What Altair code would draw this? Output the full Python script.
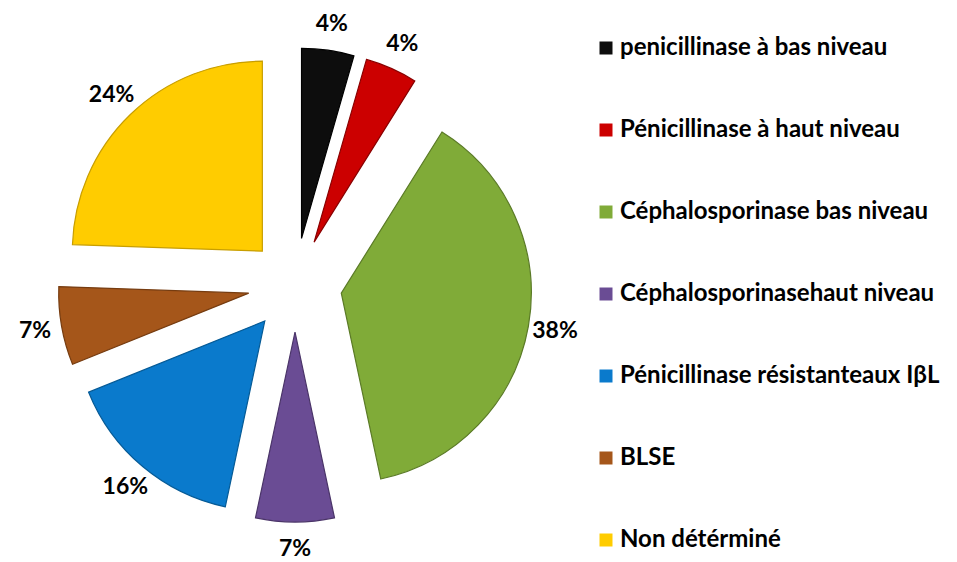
import altair as alt
import numpy as np
import pandas as pd

# ---- data ----
categories = [
    "penicillinase à bas niveau",
    "Pénicillinase à haut niveau",
    "Céphalosporinase bas niveau",
    "Céphalosporinasehaut niveau",
    "Pénicillinase résistanteaux IβL",
    "BLSE",
    "Non détérminé",
]
counts = [2, 2, 17, 3, 7, 3, 11]
labels = ["4%", "4%", "38%", "7%", "16%", "7%", "24%"]

# ---- style ----
colors = ["#0d0d0d", "#cc0000", "#80ab38", "#6a4c94", "#0a7acc", "#a5561a", "#ffcc00"]
edges = ["#000000", "#8a0000", "#5a7a26", "#4a3468", "#055a96", "#763c10", "#c89e00"]

CX, CY = 287, 277   # pie centre (px in view)
R = 190             # pie radius
EXPLODE = 47        # explosion distance
LABEL_R = 264       # label distance from centre
FONT = "Lato"

df = pd.DataFrame({"cat": categories, "n": counts, "label": labels})
total = df["n"].sum()
end = df["n"].cumsum() / total * 2 * np.pi
start = end - df["n"] / total * 2 * np.pi
df["t0"] = start
df["t1"] = end
df["mid"] = (start + end) / 2
df["cx"] = CX + EXPLODE * np.sin(df["mid"])
df["cy"] = CY - EXPLODE * np.cos(df["mid"])
df["bx"] = CX
df["by"] = CY

arcs = alt.Chart(df).mark_arc(radius=R, strokeWidth=1.2).encode(
    x=alt.X("cx:Q", scale=None),
    y=alt.Y("cy:Q", scale=None),
    theta=alt.Theta("t0:Q", scale=None, stack=False),
    theta2="t1:Q",
    color=alt.Color(
        "cat:N",
        scale=alt.Scale(domain=categories, range=colors),
        legend=alt.Legend(
            title=None,
            orient="none",
            legendX=586,
            legendY=28,
            symbolType="square",
            symbolSize=169,
            symbolStrokeWidth=0,
            labelFont=FONT,
            labelFontWeight="bold",
            labelFontSize=24,
            labelColor="black",
            labelOffset=2,
            labelLimit=400,
            rowPadding=58,
        ),
    ),
    stroke=alt.Stroke("cat:N", scale=alt.Scale(domain=categories, range=edges), legend=None),
)

texts = alt.Chart(df).mark_text(
    radius=LABEL_R, font=FONT, fontWeight="bold", fontSize=23, color="black",
    align="center", baseline="middle",
).encode(
    x=alt.X("bx:Q", scale=None),
    y=alt.Y("by:Q", scale=None),
    theta=alt.Theta("mid:Q", scale=None),
    text="label:N",
)

chart = (
    alt.layer(arcs, texts)
    .properties(width=941, height=554, padding=0, autosize="none", background="white")
    .configure_view(stroke=None)
)

chart.save("out.html", embed_options={"renderer": "svg", "actions": False})
